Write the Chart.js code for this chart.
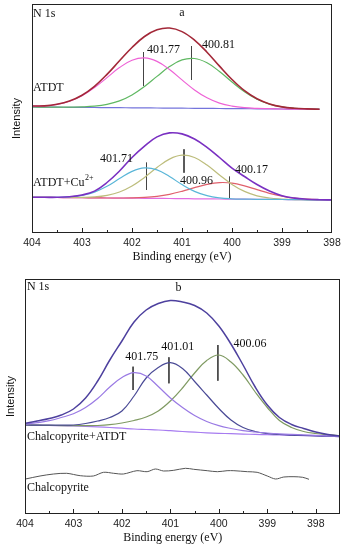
<!DOCTYPE html>
<html lang="en">
<head>
<meta charset="UTF-8">
<title>N 1s XPS spectra</title>
<style>
  body { margin: 0; background: #fff; }
  .panel { position: absolute; left: 0; width: 344px; }
  #panelA { top: 0; height: 268px; }
  #panelB { top: 268px; height: 282px; }
</style>
</head>
<body>
<div class="panel" id="panelA"><canvas id="chartA"></canvas></div>
<div class="panel" id="panelB"><canvas id="chartB"></canvas></div>

<script src="https://cdn.jsdelivr.net/npm/chart.js@4.4.0/dist/chart.umd.min.js"></script>
<script>
// binding energy grid (eV)
const energyA = [404, 403.75, 403.5, 403.25, 403, 402.75, 402.5, 402.25, 402, 401.75, 401.5, 401.25, 401,
  400.75, 400.5, 400.25, 400, 399.75, 399.5, 399.25, 399, 398.75, 398.5, 398.25, 398];
const energyB = [404, 403.75, 403.5, 403.25, 403, 402.75, 402.5, 402.25, 402, 401.75, 401.5, 401.25, 401,
  400.75, 400.5, 400.25, 400, 399.75, 399.5, 399.25, 399, 398.75, 398.5, 398.25, 398, 397.75, 397.5];
const tickLabels = [404, 403, 402, 401, 400, 399, 398];

// panel a, ATDT
const atdtEnvelope = [127.0, 127.1, 128.7, 132.0, 137.8, 146.7, 158.6, 172.2, 185.5, 196.5, 203.2, 205.0, 201.4,
  192.9, 180.8, 166.9, 153.5, 142.3, 134.2, 129.1, 126.1, 124.7, 124.1, 123.8];
const atdtPeak401 = [127.0, 127.1, 128.6, 131.8, 137.3, 145.4, 155.4, 165.4, 172.7, 175.1, 171.6, 163.5, 153.1,
  143.1, 135.2, 129.9, 126.9, 125.3, 124.6, 124.3, 124.0, 123.9, 123.8, 123.7];
const atdtPeak400 = [126.0, 125.9, 125.8, 125.9, 126.1, 126.8, 128.6, 132.1, 138.0, 146.5, 156.6, 166.4, 173.1,
  174.5, 170.2, 161.5, 151.0, 141.3, 133.8, 128.9, 126.1, 124.7, 124.1, 123.8];
const atdtBackground = [126.0, 125.9, 125.8, 125.7, 125.6, 125.5, 125.4, 125.3, 125.2, 125.1, 125.0, 124.9, 124.8,
  124.7, 124.6, 124.5, 124.4, 124.3, 124.2, 124.1, 124.0, 123.9, 123.8, 123.7];

// panel a, ATDT+Cu2+
const cuEnvelope = [35.7, 35.7, 35.7, 36.3, 38.0, 41.9, 50.5, 62.0, 75.5, 86.9, 96.1, 100.1, 99.1,
  94.0, 85.7, 75.5, 64.9, 56.5, 48.5, 42.0, 37.3, 34.9, 33.8, 33.3, 33.1];
const cuPeak401 = [35.7, 35.6, 35.7, 36.2, 37.7, 40.9, 46.7, 54.4, 61.6, 65.1, 63.1, 56.5, 48.4,
  41.6, 37.3, 35.1, 34.2, 33.9, 33.7, 33.6, 33.5, 33.3, 33.2, 33.1, 33.0];
const cuPeak400a = [35.7, 35.6, 35.5, 35.5, 35.6, 36.1, 37.7, 41.0, 47.0, 55.6, 65.5, 73.9, 77.8,
  75.5, 68.0, 58.0, 48.6, 41.6, 37.2, 35.0, 34.0, 33.4, 33.2, 33.1, 33.0];
const cuPeak400b = [35.7, 35.6, 35.5, 35.4, 35.3, 35.1, 35.0, 35.0, 35.1, 35.6, 36.7, 38.7, 41.7,
  45.3, 48.6, 50.4, 49.9, 47.2, 43.4, 39.7, 36.8, 34.8, 33.8, 33.3, 33.1];
const cuBackground = [35.7, 35.6, 35.5, 35.4, 35.3, 35.1, 35.0, 34.9, 34.8, 34.7, 34.6, 34.5, 34.4,
  34.2, 34.1, 34.0, 33.9, 33.8, 33.7, 33.6, 33.5, 33.3, 33.2, 33.1, 33.0];

// panel b, Chalcopyrite+ATDT
const mixEnvelope = [90.7, 93.0, 95.5, 99.0, 105.0, 116.0, 133.0, 154.0, 173.0, 192.0, 204.0, 210.5, 213.5,
  212.0, 208.5, 201.0, 188.0, 170.0, 149.0, 127.0, 109.0, 96.5, 89.5, 85.5, 82.0, 79.5, 77.8];
const mixPeak401a = [90.0, 91.3, 93.3, 96.5, 100.2, 106.5, 115.5, 127.0, 136.5, 141.3, 138.0, 127.5, 116.0,
  106.5, 98.5, 92.5, 88.3, 85.5, 83.3, 82.0, 81.0, 80.2, 79.6, 79.1, 78.6, 78.1, 77.6];
const mixPeak401b = [89.0, 88.9, 88.8, 88.8, 89.0, 90.5, 93.0, 96.5, 103.0, 118.0, 136.0, 146.5, 151.3,
  145.5, 132.5, 119.0, 105.5, 94.0, 86.5, 82.5, 80.5, 79.5, 78.9, 78.5, 78.1, 77.8, 77.4];
const mixPeak400 = [89.0, 88.8, 88.6, 88.4, 88.3, 88.3, 88.5, 89.3, 91.0, 93.5, 97.0, 103.0, 113.0,
  126.0, 141.0, 153.5, 159.0, 152.0, 139.0, 122.0, 106.5, 93.5, 86.5, 82.5, 80.5, 79.3, 78.5];
const mixBackground = [89.0, 88.8, 88.6, 88.3, 88.0, 87.6, 87.1, 86.5, 85.8, 85.0, 84.5, 84.0, 83.3,
  82.5, 81.8, 81.2, 80.7, 80.3, 79.9, 79.6, 79.3, 79.0, 78.7, 78.4, 78.1, 77.8, 77.4];

// panel b, Chalcopyrite
const chalcoEnergy = [403.99, 403.69, 403.41, 403.14, 402.86, 402.59, 402.38, 402.17, 401.97, 401.69, 401.48,
  401.31, 401.14, 400.93, 400.69, 400.52, 400.24, 400.03, 399.83, 399.69, 399.41, 399.21, 399.0, 398.83,
  398.66, 398.45, 398.27, 398.14];
const chalcoIntensity = [35.0, 38.0, 40.0, 40.7, 38.3, 38.0, 41.7, 40.7, 40.0, 43.3, 42.3, 45.0, 43.0, 43.7,
  45.7, 44.7, 43.3, 42.3, 43.3, 43.3, 42.3, 41.7, 38.0, 35.0, 37.0, 37.3, 36.7, 34.7];

// peak position markers
const markEnergyA = [401.77, 400.81, 401.71, 400.96, 400.05];
const markTopA = [181, 187, 70.3, 83.7, 56.3];
const markBottomA = [147, 153, 43, 60.3, 34.7];
const markEnergyB = [401.77, 401.03, 400.02];
const markTopB = [147.3, 156.7, 169];
const markBottomB = [124, 130.7, 133.3];

const SERIF = '"Liberation Serif", "Times New Roman", serif';
const SANS = '"Liberation Sans", Arial, sans-serif';

function pts(xs, ys) {
  return ys.map((v, i) => ({ x: xs[i], y: v }));
}

function curve(xs, ys, color, width) {
  return {
    data: pts(xs, ys),
    borderColor: color,
    borderWidth: width || 1.2,
    pointRadius: 0,
    tension: 0.4,
    fill: false
  };
}

function markers(es, tops, bottoms) {
  return es.map((e, i) => ({
    data: [{ x: e, y: tops[i] }, { x: e, y: bottoms[i] }],
    borderColor: '#444',
    borderWidth: 1,
    pointRadius: 0,
    tension: 0
  }));
}

const decor = {
  id: 'decor',
  afterDatasetsDraw(chart, args, opts) {
    const { ctx, chartArea: a, scales: { x, y } } = chart;
    ctx.save();
    ctx.strokeStyle = '#222';
    ctx.lineWidth = 1;
    ctx.strokeRect(a.left + 0.5, a.top + 0.5, a.right - a.left - 1, a.bottom - a.top - 1);

    // inward ticks, major + minor
    ctx.beginPath();
    tickLabels.forEach((v, i) => {
      const px = Math.min(Math.round(x.getPixelForValue(v)) + 0.5, a.right - 0.5);
      ctx.moveTo(px, a.bottom);
      ctx.lineTo(px, a.bottom - 5);
      if (i > 0) {
        const mx = Math.round(x.getPixelForValue((v + tickLabels[i - 1]) / 2)) + 0.5;
        ctx.moveTo(mx, a.bottom);
        ctx.lineTo(mx, a.bottom - 3);
      }
    });
    ctx.stroke();

    ctx.fillStyle = '#111';
    // y title
    ctx.font = '11px ' + SANS;
    ctx.textAlign = 'center';
    ctx.textBaseline = 'middle';
    ctx.save();
    ctx.translate(opts.yTitleX, (a.top + a.bottom) / 2);
    ctx.rotate(-Math.PI / 2);
    ctx.fillText('Intensity', 0, 0);
    ctx.restore();

    // x title
    ctx.font = '12px ' + SERIF;
    ctx.fillText('Binding energy (eV)', x.getPixelForValue(opts.xTitleAt), opts.xTitleY);

    // labels
    opts.labels.forEach(l => {
      ctx.font = '12px ' + SERIF;
      ctx.textAlign = l.align || 'left';
      const px = x.getPixelForValue(l.x);
      const py = y.getPixelForValue(l.y);
      ctx.fillText(l.text, px, py);
      if (l.sup) {
        const w = ctx.measureText(l.text).width;
        ctx.font = '8px ' + SERIF;
        ctx.textAlign = 'left';
        ctx.fillText(l.sup, px + w + 0.5, py - 5);
      }
    });
    ctx.restore();
  }
};

function makeChart(id, datasets, xMin, yMax, padding, axisHeight, decorOpts) {
  return new Chart(document.getElementById(id), {
    type: 'line',
    data: { datasets },
    plugins: [decor],
    options: {
      responsive: true,
      maintainAspectRatio: false,
      animation: false,
      layout: { padding },
      plugins: { legend: { display: false }, tooltip: { enabled: false }, decor: decorOpts },
      scales: {
        x: {
          type: 'linear',
          reverse: true,
          min: xMin,
          max: 404,
          grid: { display: false, drawTicks: false },
          border: { display: false },
          afterBuildTicks: s => { s.ticks = tickLabels.slice().reverse().map(v => ({ value: v })); },
          afterFit: s => { s.height = axisHeight; },
          ticks: {
            autoSkip: false,
            maxRotation: 0,
            padding: 4,
            color: '#222',
            font: { family: SANS, size: 10.5 },
            callback: v => String(v)
          }
        },
        y: { display: false, min: 0, max: yMax }
      }
    }
  });
}

makeChart('chartA', [
  curve(energyA, atdtEnvelope, '#a32838', 1.6),
  curve(energyA, atdtPeak401, '#ee62d6'),
  curve(energyA, atdtPeak400, '#5fb862'),
  curve(energyA, atdtBackground, '#7474dc'),
  curve(energyA, cuEnvelope, '#7a30c2', 1.6),
  curve(energyA, cuPeak401, '#5ab6d8'),
  curve(energyA, cuPeak400a, '#bdbd7c'),
  curve(energyA, cuPeak400b, '#e0606c'),
  curve(energyA, cuBackground, '#e26ee2'),
  ...markers(markEnergyA, markTopA, markBottomA)
], 398, 229, { left: 32, right: 12, top: 4, bottom: 0 }, 35, {
  yTitleX: 17,
  xTitleAt: 401,
  xTitleY: 257,
  labels: [
    { text: 'N 1s', x: 403.98, y: 219 },
    { text: 'a', x: 401, y: 220, align: 'center' },
    { text: '401.77', x: 401.7, y: 183 },
    { text: '400.81', x: 400.6, y: 188 },
    { text: 'ATDT', x: 403.98, y: 145 },
    { text: '401.71', x: 402.64, y: 74 },
    { text: '400.96', x: 401.04, y: 52 },
    { text: '400.17', x: 399.94, y: 63.5 },
    { text: 'ATDT+Cu', sup: '2+', x: 403.98, y: 50.5 }
  ]
});

makeChart('chartB', [
  curve(energyB, mixEnvelope, '#4d409e', 1.5),
  curve(energyB, mixPeak401a, '#9a7ae4'),
  curve(energyB, mixPeak401b, '#4a4a96'),
  curve(energyB, mixPeak400, '#7f9a62'),
  curve(energyB, mixBackground, '#a77cf0'),
  Object.assign(curve(chalcoEnergy, chalcoIntensity, '#555555', 1), { tension: 0.3 }),
  ...markers(markEnergyB, markTopB, markBottomB)
], 397.5, 235, { left: 25, right: 4, top: 11, bottom: 0 }, 36, {
  yTitleX: 11,
  xTitleAt: 400.95,
  xTitleY: 270,
  labels: [
    { text: 'N 1s', x: 403.96, y: 227.5 },
    { text: 'b', x: 400.83, y: 226, align: 'center' },
    { text: '401.75', x: 401.93, y: 157 },
    { text: '401.01', x: 401.19, y: 167 },
    { text: '400.06', x: 399.7, y: 170 },
    { text: 'Chalcopyrite+ATDT', x: 403.96, y: 77 },
    { text: 'Chalcopyrite', x: 403.96, y: 26 }
  ]
});
</script>
</body>
</html>
